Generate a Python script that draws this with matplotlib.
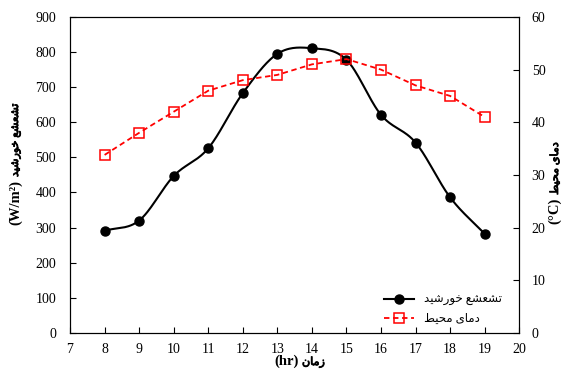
import numpy as np
import matplotlib.pyplot as plt
import matplotlib.patheffects as pe

# data
hours = [8, 9, 10, 11, 12, 13, 14, 15, 16, 17, 18, 19]
radiation = [291, 320, 447, 526, 683, 795, 811, 778, 621, 542, 386, 282]
temperature = [33.8, 38, 42, 46, 48, 49, 51, 52, 50, 47, 45, 41]

x_ticks = list(range(7, 21))
left_ticks = list(range(0, 901, 100))
right_ticks = list(range(0, 61, 10))

# persian text shaping (no arabic_reshaper available)
FORMS = {
    'ا': ('\uFE8D', '\uFE8E', None, None),
    'ت': ('\uFE95', '\uFE96', '\uFE97', '\uFE98'),
    'ح': ('\uFEA1', '\uFEA2', '\uFEA3', '\uFEA4'),
    'خ': ('\uFEA5', '\uFEA6', '\uFEA7', '\uFEA8'),
    'د': ('\uFEA9', '\uFEAA', None, None),
    'ر': ('\uFEAD', '\uFEAE', None, None),
    'ز': ('\uFEAF', '\uFEB0', None, None),
    'ش': ('\uFEB5', '\uFEB6', '\uFEB7', '\uFEB8'),
    'ط': ('\uFEC1', '\uFEC2', '\uFEC3', '\uFEC4'),
    'ع': ('\uFEC9', '\uFECA', '\uFECB', '\uFECC'),
    'م': ('\uFEE1', '\uFEE2', '\uFEE3', '\uFEE4'),
    'ن': ('\uFEE5', '\uFEE6', '\uFEE7', '\uFEE8'),
    'و': ('\uFEED', '\uFEEE', None, None),
    'ی': ('\uFBFC', '\uFBFD', '\uFBFE', '\uFBFF'),
}


def fa(text):
    out = []
    for word in text.split(' '):
        chars = []
        for i, c in enumerate(word):
            iso, fin, ini, med = FORMS[c]
            prev_joins = i > 0 and FORMS[word[i - 1]][2] is not None
            can_join_next = ini is not None and i < len(word) - 1
            if prev_joins and can_join_next:
                chars.append(med)
            elif prev_joins:
                chars.append(fin)
            elif can_join_next:
                chars.append(ini)
            else:
                chars.append(iso)
        out.append(''.join(chars))
    return ' '.join(out)[::-1]


def smooth(xs, ys, n=30):
    # catmull-rom curve through the points (like excel smoothed line)
    xs = np.asarray(xs, float)
    ys = np.asarray(ys, float)
    px = np.concatenate([[2 * xs[0] - xs[1]], xs, [2 * xs[-1] - xs[-2]]])
    py = np.concatenate([[2 * ys[0] - ys[1]], ys, [2 * ys[-1] - ys[-2]]])
    t = np.linspace(0, 1, n)
    cx, cy = [], []
    for i in range(1, len(px) - 2):
        for p, c in ((px, cx), (py, cy)):
            p0, p1, p2, p3 = p[i - 1], p[i], p[i + 1], p[i + 2]
            c.extend(0.5 * (2 * p1 + (-p0 + p2) * t
                            + (2 * p0 - 5 * p1 + 4 * p2 - p3) * t ** 2
                            + (-p0 + 3 * p1 - 3 * p2 + p3) * t ** 3))
    return cx, cy


plt.rcParams['font.family'] = ['Liberation Serif', 'DejaVu Sans']
plt.rcParams['font.size'] = 10

W, H = 565, 369
fig = plt.figure(figsize=(W / 100, H / 100), dpi=100)
ax1 = fig.add_axes([0.124, 0.098, 0.795, 0.856])
ax2 = ax1.twinx()

sx, sy = smooth(hours, radiation)
ax1.plot(sx, sy, color='black', linewidth=1.5)
ax1.plot(hours, radiation, 'o', color='black', markersize=6.5)
l1, = ax1.plot([], [], '-o', color='black', markersize=6.5, linewidth=1.5,
               label=fa('تشعشع خورشید'))

l2, = ax2.plot(hours, temperature, '--s', color='red', markersize=7,
               markerfacecolor='none', markeredgewidth=1.1, linewidth=1.3,
               dashes=(3, 2), label=fa('دمای محیط'))

ax1.set_xlim(7, 20)
ax1.set_ylim(0, 900)
ax2.set_ylim(0, 60)
ax1.set_xticks(x_ticks)
ax1.set_yticks(left_ticks)
ax2.set_yticks(right_ticks)

ax1.tick_params(axis='x', direction='in', length=4, pad=7)
ax1.tick_params(axis='y', direction='in', length=4, pad=10)
ax2.tick_params(direction='in', length=4, pad=9)

# axis titles: bold latin part + persian part (bold persian glyphs missing,
# so a thin stroke thickens them a bit)
def px(x, y):
    return x / W, 1 - y / H

bold = [pe.withStroke(linewidth=0.6, foreground='black')]
fig.text(*px(16, 180), '(W/m²)', rotation=90, ha='center', va='top',
         fontweight='bold', fontsize=10.5)
fig.text(*px(16, 177), fa('تشعشع خورشید'), rotation=90, ha='center',
         va='bottom', fontsize=8, path_effects=bold)
fig.text(*px(555, 198), '(°C)', rotation=90, ha='center', va='top',
         fontweight='bold', fontsize=10.5)
fig.text(*px(555, 195), fa('دمای محیط'), rotation=90, ha='center',
         va='bottom', fontsize=8, path_effects=bold)
fig.text(*px(299, 368), '(hr)', ha='right', va='bottom',
         fontweight='bold', fontsize=10.5)
fig.text(*px(302, 368), fa('زمان'), ha='left', va='bottom', fontsize=8,
         path_effects=bold)

ax1.legend(handles=[l1, l2], loc='lower right', bbox_to_anchor=(0.985, -0.01),
           frameon=False, fontsize=8.5, handlelength=2.6, labelspacing=0.6)

fig.savefig('out.png', dpi=100)
